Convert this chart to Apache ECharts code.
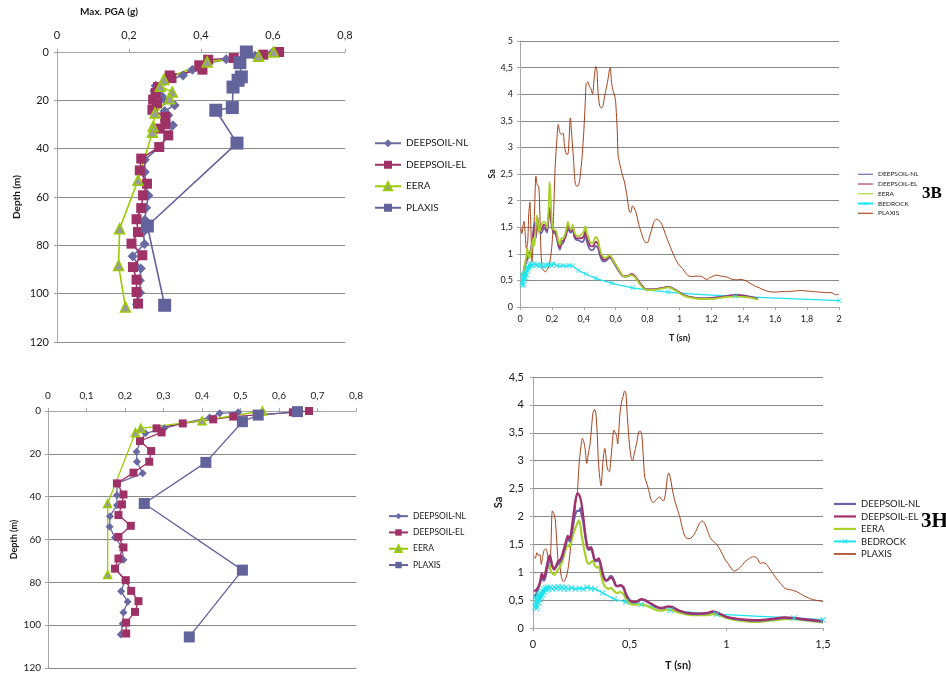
<!DOCTYPE html>
<html><head><meta charset="utf-8">
<script src="https://cdn.jsdelivr.net/npm/echarts@6.0.0/dist/echarts.min.js"></script>
<style>html,body{margin:0;padding:0;background:#fff}#c{width:946px;height:677px}</style>
</head><body><div id="c"></div>
<script>
// ---------- Panel A (top-left): Max PGA profile  [PGA (g), depth (m)] ----------
const pA_NL = [[0.60,0],[0.55,1.5],[0.47,3],[0.41,5],[0.376,7.3],[0.35,9.7],[0.30,12],[0.274,14],[0.271,16],[0.29,18],[0.30,20],[0.327,22],[0.299,24.4],[0.309,26.2],[0.30,28],[0.322,30.3],[0.309,34.5],[0.285,39.3],[0.244,44.6],[0.244,49.7],[0.246,54.6],[0.254,59.4],[0.248,64.4],[0.244,69.4],[0.24,74.5],[0.243,79.4],[0.21,84.5],[0.233,89.6],[0.23,94.5],[0.231,99.6],[0.222,104.4]];
const pA_EL = [[0.617,0],[0.573,1.1],[0.491,2.5],[0.42,3.2],[0.395,5.5],[0.404,7.3],[0.313,9.7],[0.318,10.8],[0.281,14.5],[0.274,17],[0.267,19.7],[0.278,21.2],[0.265,23.9],[0.301,26.9],[0.301,29.9],[0.285,31.7],[0.309,34.5],[0.284,39.3],[0.234,44.1],[0.23,49],[0.25,54.5],[0.239,59.3],[0.234,64.6],[0.221,69.2],[0.225,74.5],[0.207,79.3],[0.237,84.1],[0.211,89],[0.221,94.2],[0.221,99.3],[0.225,104.1]];
const pA_EERA = [[0.602,0],[0.56,1.8],[0.417,4.1],[0.297,11.4],[0.287,14.2],[0.32,16.6],[0.313,19.3],[0.272,25.2],[0.267,30.8],[0.265,33.2],[0.225,53.1],[0.174,73.1],[0.171,88.3],[0.19,105.5]];
const pA_PLAXIS = [[0.526,0],[0.508,4.4],[0.512,10.3],[0.503,11.7],[0.489,14.5],[0.487,23],[0.441,24.1],[0.5,37.7],[0.251,72],[0.299,104.8]];

// ---------- Panel B (bottom-left): Max PGA profile ----------
const pB_NL = [[0.494,0.6],[0.446,1.1],[0.42,3],[0.35,5.8],[0.302,8.1],[0.253,10.4],[0.24,14],[0.23,19],[0.231,23.7],[0.246,29.1],[0.179,33.8],[0.179,39.3],[0.179,44],[0.161,49.1],[0.16,54.1],[0.174,59.1],[0.192,63.4],[0.196,69.5],[0.174,73.6],[0.2,79],[0.19,84.2],[0.207,89.1],[0.196,94.1],[0.194,99.3],[0.189,104.3]];
const pB_EL = [[0.678,0],[0.636,0.6],[0.481,2.6],[0.429,3.9],[0.35,5.8],[0.282,8.1],[0.295,10],[0.239,14],[0.268,18.7],[0.263,23.7],[0.222,28.8],[0.179,33.8],[0.196,39],[0.192,43.6],[0.183,48.6],[0.215,53.6],[0.183,58.8],[0.196,63.7],[0.183,68.9],[0.174,73.6],[0.202,79],[0.216,84],[0.235,88.8],[0.226,93.8],[0.203,98.8],[0.203,103.9]];
const pB_EERA = [[0.557,0],[0.4,4.5],[0.241,8.1],[0.227,10.1],[0.155,43.2],[0.155,76.4]];
const pB_PLAXIS = [[0.648,0.3],[0.546,1.9],[0.505,5],[0.41,24],[0.25,43.2],[0.505,74.3],[0.367,105.5]];

// ---------- Panel 3B (top-right): spectra [T (s), Sa] ----------
const s3B_NL = [[0.01,0.62],[0.02,0.62],[0.03,0.75],[0.04,0.85],[0.05,0.92],[0.06,1.0],[0.07,1.1],[0.08,1.3],[0.09,1.58],[0.095,1.45],[0.1,1.3],[0.11,1.62],[0.12,1.45],[0.13,1.38],[0.14,1.42],[0.15,1.5],[0.16,1.45],[0.17,1.4],[0.18,1.7],[0.185,1.82],[0.19,1.75],[0.2,1.5],[0.21,1.4],[0.22,1.38],[0.23,1.3],[0.24,1.15],[0.25,1.08],[0.26,1.18],[0.27,1.2],[0.28,1.28],[0.29,1.35],[0.3,1.5],[0.31,1.42],[0.32,1.4],[0.33,1.48],[0.34,1.32],[0.35,1.27],[0.37,1.25],[0.39,1.22],[0.4,1.25],[0.41,1.35],[0.42,1.22],[0.43,1.13],[0.44,1.08],[0.45,1.07],[0.46,1.08],[0.475,1.15],[0.49,1.1],[0.5,0.98],[0.51,0.9],[0.52,0.86],[0.535,0.86],[0.55,0.9],[0.56,0.93],[0.575,0.9],[0.59,0.82],[0.61,0.72],[0.63,0.63],[0.65,0.57],[0.67,0.57],[0.69,0.6],[0.7,0.61],[0.72,0.57],[0.74,0.49],[0.76,0.41],[0.78,0.35],[0.8,0.33],[0.84,0.33],[0.88,0.35],[0.91,0.37],[0.93,0.38],[0.95,0.36],[0.98,0.31],[1.0,0.27],[1.03,0.22],[1.06,0.19],[1.1,0.17],[1.15,0.16],[1.2,0.17],[1.25,0.19],[1.3,0.21],[1.35,0.23],[1.4,0.22],[1.45,0.19],[1.49,0.16]];
const s3B_EL = [[0.01,0.62],[0.02,0.63],[0.03,0.78],[0.04,0.9],[0.05,0.98],[0.06,0.95],[0.07,1.05],[0.08,1.28],[0.09,1.5],[0.095,1.4],[0.1,1.35],[0.11,1.68],[0.12,1.42],[0.13,1.45],[0.14,1.5],[0.15,1.55],[0.16,1.52],[0.17,1.45],[0.18,1.75],[0.185,1.86],[0.19,1.8],[0.2,1.55],[0.21,1.42],[0.22,1.42],[0.23,1.35],[0.24,1.2],[0.25,1.12],[0.26,1.24],[0.27,1.24],[0.28,1.3],[0.29,1.4],[0.3,1.55],[0.31,1.46],[0.32,1.43],[0.33,1.52],[0.34,1.37],[0.35,1.3],[0.37,1.29],[0.39,1.3],[0.4,1.33],[0.41,1.43],[0.42,1.3],[0.43,1.22],[0.44,1.15],[0.45,1.14],[0.46,1.15],[0.475,1.23],[0.49,1.18],[0.5,1.04],[0.51,0.95],[0.52,0.9],[0.535,0.89],[0.55,0.93],[0.56,0.96],[0.575,0.92],[0.59,0.84],[0.61,0.74],[0.63,0.64],[0.65,0.58],[0.67,0.58],[0.69,0.61],[0.7,0.62],[0.72,0.58],[0.74,0.5],[0.76,0.42],[0.78,0.35],[0.8,0.33],[0.84,0.33],[0.88,0.35],[0.91,0.37],[0.93,0.38],[0.95,0.36],[0.98,0.31],[1.0,0.27],[1.03,0.22],[1.06,0.19],[1.1,0.17],[1.15,0.16],[1.2,0.16],[1.25,0.18],[1.3,0.2],[1.35,0.22],[1.4,0.21],[1.45,0.18],[1.49,0.15]];
const s3B_EERA = [[0.01,0.62],[0.02,0.64],[0.03,0.8],[0.04,0.95],[0.045,1.1],[0.05,1.05],[0.055,0.95],[0.06,0.92],[0.07,1.05],[0.08,1.25],[0.085,1.3],[0.09,1.15],[0.095,1.3],[0.105,1.72],[0.11,1.65],[0.12,1.4],[0.13,1.5],[0.14,1.58],[0.15,1.6],[0.16,1.58],[0.17,1.48],[0.18,1.9],[0.185,2.35],[0.19,2.2],[0.2,1.6],[0.21,1.45],[0.22,1.45],[0.23,1.4],[0.24,1.25],[0.25,1.17],[0.26,1.3],[0.27,1.28],[0.28,1.35],[0.29,1.45],[0.3,1.6],[0.31,1.5],[0.32,1.45],[0.33,1.55],[0.34,1.42],[0.35,1.35],[0.37,1.33],[0.39,1.38],[0.4,1.42],[0.41,1.52],[0.42,1.38],[0.43,1.3],[0.44,1.22],[0.45,1.2],[0.46,1.22],[0.475,1.32],[0.49,1.25],[0.5,1.1],[0.51,1.0],[0.52,0.95],[0.535,0.92],[0.55,0.95],[0.56,0.98],[0.575,0.93],[0.59,0.85],[0.61,0.75],[0.63,0.65],[0.65,0.58],[0.67,0.57],[0.69,0.6],[0.7,0.6],[0.72,0.56],[0.74,0.48],[0.76,0.4],[0.78,0.34],[0.8,0.32],[0.84,0.32],[0.88,0.34],[0.91,0.36],[0.93,0.37],[0.95,0.35],[0.98,0.3],[1.0,0.26],[1.03,0.21],[1.06,0.18],[1.1,0.16],[1.15,0.15],[1.2,0.15],[1.25,0.17],[1.3,0.19],[1.35,0.2],[1.4,0.19],[1.45,0.17],[1.49,0.14]];
const s3B_BEDROCK = [[0.01,0.45],[0.013,0.6],[0.016,0.4],[0.02,0.55],[0.023,0.42],[0.026,0.62],[0.03,0.5],[0.033,0.66],[0.036,0.55],[0.04,0.7],[0.043,0.6],[0.046,0.75],[0.05,0.68],[0.055,0.8],[0.06,0.72],[0.065,0.82],[0.07,0.76],[0.075,0.8],[0.08,0.78],[0.09,0.82],[0.1,0.78],[0.11,0.8],[0.12,0.76],[0.13,0.8],[0.14,0.78],[0.15,0.75],[0.16,0.78],[0.17,0.8],[0.18,0.78],[0.19,0.8],[0.2,0.78],[0.21,0.82],[0.23,0.78],[0.25,0.77],[0.27,0.78],[0.29,0.77],[0.31,0.78],[0.33,0.77],[0.366,0.69],[0.414,0.62],[0.476,0.54],[0.575,0.45],[0.706,0.36],[0.93,0.28],[1.348,0.2],[2.0,0.12]];
const s3B_PLAXIS = [[0.005,1.48],[0.012,1.38],[0.02,1.55],[0.025,1.61],[0.032,1.4],[0.04,1.1],[0.048,1.2],[0.055,1.75],[0.062,1.97],[0.068,1.5],[0.075,0.85],[0.082,1.2],[0.09,1.7],[0.1,2.46],[0.108,2.3],[0.118,2.25],[0.125,1.7],[0.132,1.0],[0.14,0.72],[0.15,0.68],[0.16,0.66],[0.17,0.7],[0.18,0.75],[0.19,0.9],[0.2,1.15],[0.21,1.7],[0.22,2.6],[0.23,3.1],[0.24,3.43],[0.25,3.28],[0.26,3.24],[0.27,3.27],[0.28,3.0],[0.29,2.88],[0.3,2.87],[0.31,3.3],[0.315,3.55],[0.325,3.2],[0.335,2.8],[0.345,2.35],[0.355,2.27],[0.365,2.28],[0.375,2.4],[0.39,2.85],[0.4,3.3],[0.41,3.9],[0.415,4.2],[0.425,4.23],[0.435,4.15],[0.445,4.1],[0.455,4.0],[0.465,4.3],[0.475,4.52],[0.482,4.45],[0.49,4.0],[0.5,3.78],[0.51,3.74],[0.52,3.78],[0.53,3.95],[0.54,4.1],[0.55,4.25],[0.56,4.45],[0.565,4.5],[0.575,4.2],[0.585,4.05],[0.595,3.95],[0.6,3.85],[0.61,3.3],[0.615,2.85],[0.625,2.7],[0.64,2.5],[0.655,2.35],[0.67,2.1],[0.685,1.8],[0.695,1.78],[0.705,1.9],[0.715,1.87],[0.73,1.75],[0.745,1.55],[0.76,1.4],[0.775,1.27],[0.79,1.21],[0.8,1.21],[0.81,1.3],[0.825,1.45],[0.84,1.6],[0.855,1.65],[0.87,1.63],[0.885,1.58],[0.9,1.47],[0.92,1.3],[0.94,1.15],[0.96,1.0],[0.98,0.87],[1.0,0.78],[1.02,0.72],[1.04,0.63],[1.06,0.58],[1.08,0.57],[1.1,0.58],[1.12,0.58],[1.14,0.57],[1.16,0.53],[1.175,0.52],[1.19,0.55],[1.21,0.58],[1.23,0.6],[1.26,0.58],[1.3,0.56],[1.33,0.52],[1.36,0.51],[1.38,0.52],[1.41,0.5],[1.44,0.45],[1.47,0.4],[1.5,0.36],[1.53,0.32],[1.56,0.29],[1.6,0.28],[1.64,0.29],[1.68,0.29],[1.72,0.3],[1.76,0.31],[1.8,0.3],[1.84,0.29],[1.88,0.28],[1.92,0.27],[1.95,0.27],[1.98,0.23],[2.0,0.24]];

// ---------- Panel 3H (bottom-right): spectra [T (s), Sa] ----------
const s3H_NL = [[0.005,0.56],[0.015,0.6],[0.025,0.7],[0.035,0.8],[0.045,0.9],[0.05,0.88],[0.055,0.85],[0.065,0.92],[0.075,1.1],[0.085,1.25],[0.09,1.22],[0.1,1.1],[0.11,1.05],[0.12,1.1],[0.13,1.15],[0.14,1.18],[0.15,1.25],[0.16,1.38],[0.17,1.5],[0.18,1.6],[0.19,1.55],[0.2,1.7],[0.21,1.9],[0.22,2.05],[0.23,2.1],[0.24,2.1],[0.245,2.15],[0.25,2.05],[0.26,1.9],[0.27,1.65],[0.28,1.45],[0.29,1.4],[0.3,1.42],[0.31,1.32],[0.32,1.2],[0.33,1.2],[0.34,1.22],[0.35,1.12],[0.36,0.98],[0.37,0.88],[0.38,0.85],[0.39,0.88],[0.4,0.93],[0.41,0.92],[0.42,0.84],[0.43,0.76],[0.44,0.75],[0.45,0.76],[0.46,0.75],[0.47,0.7],[0.48,0.6],[0.49,0.53],[0.5,0.49],[0.52,0.46],[0.54,0.47],[0.56,0.51],[0.58,0.49],[0.6,0.45],[0.62,0.41],[0.64,0.37],[0.66,0.35],[0.68,0.36],[0.7,0.38],[0.72,0.37],[0.74,0.33],[0.76,0.3],[0.8,0.26],[0.85,0.25],[0.9,0.26],[0.93,0.29],[0.96,0.26],[1.0,0.2],[1.05,0.16],[1.1,0.14],[1.15,0.13],[1.2,0.14],[1.25,0.16],[1.3,0.18],[1.35,0.17],[1.4,0.15],[1.45,0.13],[1.5,0.11]];
const s3H_EL = [[0.005,0.66],[0.015,0.68],[0.025,0.72],[0.035,0.8],[0.045,0.98],[0.05,0.93],[0.055,0.88],[0.065,1.0],[0.075,1.18],[0.085,1.3],[0.09,1.28],[0.1,1.12],[0.11,1.05],[0.12,1.12],[0.13,1.2],[0.14,1.22],[0.15,1.3],[0.16,1.42],[0.17,1.55],[0.18,1.65],[0.19,1.6],[0.2,1.78],[0.21,2.05],[0.22,2.3],[0.23,2.42],[0.24,2.38],[0.25,2.25],[0.26,2.0],[0.27,1.7],[0.28,1.48],[0.29,1.42],[0.3,1.45],[0.31,1.35],[0.32,1.22],[0.33,1.22],[0.34,1.25],[0.35,1.15],[0.36,0.98],[0.37,0.88],[0.38,0.85],[0.39,0.87],[0.4,0.9],[0.41,0.9],[0.42,0.82],[0.43,0.75],[0.44,0.75],[0.45,0.77],[0.46,0.76],[0.47,0.72],[0.48,0.62],[0.49,0.55],[0.5,0.5],[0.52,0.47],[0.54,0.48],[0.56,0.52],[0.58,0.5],[0.6,0.46],[0.62,0.42],[0.64,0.38],[0.66,0.36],[0.68,0.37],[0.7,0.39],[0.72,0.38],[0.74,0.34],[0.76,0.31],[0.8,0.27],[0.85,0.26],[0.9,0.27],[0.93,0.3],[0.96,0.27],[1.0,0.2],[1.05,0.17],[1.1,0.15],[1.15,0.14],[1.2,0.15],[1.25,0.17],[1.3,0.19],[1.35,0.18],[1.4,0.16],[1.45,0.14],[1.5,0.12]];
const s3H_EERA = [[0.005,0.55],[0.015,0.58],[0.025,0.68],[0.035,0.78],[0.045,0.88],[0.055,0.95],[0.065,1.0],[0.075,1.12],[0.08,1.22],[0.085,1.18],[0.09,1.05],[0.1,0.98],[0.11,0.95],[0.12,1.0],[0.13,1.05],[0.14,1.1],[0.15,1.18],[0.16,1.3],[0.17,1.42],[0.18,1.5],[0.19,1.45],[0.2,1.58],[0.21,1.7],[0.22,1.8],[0.23,1.88],[0.237,1.93],[0.245,1.85],[0.25,1.7],[0.26,1.5],[0.27,1.32],[0.28,1.18],[0.29,1.15],[0.3,1.18],[0.31,1.2],[0.32,1.12],[0.33,1.08],[0.34,1.1],[0.35,0.98],[0.36,0.85],[0.37,0.75],[0.38,0.72],[0.39,0.7],[0.4,0.72],[0.41,0.7],[0.42,0.66],[0.43,0.63],[0.44,0.63],[0.45,0.65],[0.46,0.63],[0.47,0.6],[0.48,0.52],[0.49,0.47],[0.5,0.44],[0.52,0.42],[0.54,0.42],[0.56,0.43],[0.58,0.41],[0.6,0.38],[0.62,0.35],[0.64,0.32],[0.66,0.31],[0.68,0.32],[0.7,0.33],[0.72,0.32],[0.74,0.29],[0.76,0.27],[0.8,0.24],[0.85,0.23],[0.9,0.23],[0.93,0.25],[0.96,0.23],[1.0,0.18],[1.05,0.14],[1.1,0.12],[1.15,0.11],[1.2,0.12],[1.25,0.14],[1.3,0.16],[1.35,0.16],[1.4,0.14],[1.45,0.12],[1.5,0.1]];
const s3H_BEDROCK = [[0.01,0.38],[0.013,0.55],[0.016,0.35],[0.02,0.5],[0.023,0.38],[0.026,0.58],[0.03,0.45],[0.033,0.6],[0.036,0.5],[0.04,0.62],[0.043,0.55],[0.046,0.66],[0.05,0.6],[0.055,0.7],[0.06,0.64],[0.065,0.72],[0.07,0.68],[0.075,0.73],[0.08,0.7],[0.09,0.73],[0.1,0.7],[0.11,0.73],[0.12,0.71],[0.13,0.74],[0.14,0.71],[0.15,0.73],[0.16,0.7],[0.17,0.73],[0.18,0.7],[0.2,0.72],[0.22,0.7],[0.24,0.71],[0.26,0.7],[0.28,0.73],[0.3,0.71],[0.32,0.7],[0.36,0.63],[0.42,0.52],[0.48,0.47],[0.56,0.42],[0.71,0.32],[0.95,0.25],[1.35,0.18],[1.5,0.15]];
const s3H_PLAXIS = [[0.005,1.28],[0.012,1.25],[0.02,1.35],[0.028,1.3],[0.035,1.32],[0.043,1.14],[0.05,1.28],[0.057,1.39],[0.065,1.42],[0.072,1.38],[0.078,1.22],[0.085,1.05],[0.092,1.4],[0.1,2.1],[0.108,2.05],[0.115,1.95],[0.122,1.6],[0.13,1.2],[0.137,1.18],[0.145,0.95],[0.152,0.86],[0.16,0.83],[0.168,0.88],[0.175,0.95],[0.183,1.1],[0.19,1.3],[0.2,1.6],[0.208,1.8],[0.215,2.0],[0.222,2.25],[0.23,2.45],[0.235,2.75],[0.24,3.0],[0.248,3.25],[0.255,3.4],[0.262,3.35],[0.27,3.2],[0.278,2.95],[0.285,3.1],[0.295,3.3],[0.303,3.6],[0.31,3.85],[0.318,3.92],[0.325,3.85],[0.332,3.5],[0.338,3.0],[0.345,2.7],[0.352,2.55],[0.358,2.8],[0.365,3.1],[0.372,3.22],[0.378,3.05],[0.385,2.85],[0.395,2.8],[0.402,3.0],[0.41,3.3],[0.418,3.55],[0.425,3.5],[0.432,3.45],[0.438,3.3],[0.443,3.5],[0.45,3.85],[0.458,4.05],[0.466,4.15],[0.474,4.25],[0.48,4.22],[0.487,3.85],[0.494,3.5],[0.5,3.25],[0.508,3.05],[0.515,3.0],[0.522,3.1],[0.53,3.22],[0.538,3.35],[0.547,3.52],[0.555,3.53],[0.563,3.45],[0.57,3.1],[0.578,2.7],[0.588,2.6],[0.6,2.45],[0.61,2.3],[0.62,2.25],[0.632,2.28],[0.645,2.33],[0.655,2.35],[0.665,2.3],[0.675,2.28],[0.685,2.4],[0.695,2.7],[0.702,2.78],[0.71,2.7],[0.72,2.5],[0.732,2.3],[0.745,2.15],[0.76,1.98],[0.772,1.8],[0.785,1.65],[0.8,1.6],[0.815,1.61],[0.83,1.66],[0.845,1.75],[0.86,1.87],[0.875,1.92],[0.89,1.86],[0.905,1.72],[0.92,1.6],[0.935,1.55],[0.95,1.5],[0.965,1.42],[0.98,1.32],[0.995,1.22],[1.01,1.15],[1.025,1.07],[1.04,1.02],[1.055,1.04],[1.07,1.08],[1.085,1.14],[1.1,1.2],[1.12,1.25],[1.14,1.28],[1.16,1.25],[1.175,1.16],[1.19,1.17],[1.205,1.15],[1.22,1.08],[1.24,0.98],[1.26,0.88],[1.28,0.8],[1.3,0.72],[1.32,0.69],[1.34,0.68],[1.37,0.64],[1.4,0.58],[1.43,0.53],[1.46,0.5],[1.49,0.48],[1.5,0.47]];

const profileNames = ['DEEPSOIL-NL', 'DEEPSOIL-EL', 'EERA', 'PLAXIS'];
const spectraNames = ['DEEPSOIL-NL', 'DEEPSOIL-EL', 'EERA', 'BEDROCK', 'PLAXIS'];

// ---------- rendering ----------
const F = 'Lato, "Open Sans", sans-serif';
const fmt = v => String(+(+v).toFixed(2)).replace('.', ',');
const GRID_C = '#8a8a8a', AX_C = '#a6a6a6', TXT = '#1a1a1a';

const grids = [
  { left: 57, top: 52, width: 288, height: 290 },
  { left: 48, top: 411, width: 308, height: 257 },
  { left: 520, top: 41, width: 319, height: 266 },
  { left: 533, top: 377, width: 290, height: 251 }
];

function profX(gi, interval, fs, margin) {
  return { gridIndex: gi, type: 'value', position: 'top', min: 0, max: 0.8, interval,
    axisLine: { show: true, lineStyle: { color: AX_C } },
    axisTick: { show: true, length: 3, lineStyle: { color: AX_C } },
    axisLabel: { formatter: fmt, fontFamily: F, fontSize: fs, color: TXT, margin },
    splitLine: { show: false } };
}
function profY(gi, fs, margin, nameSize, nameGap) {
  return { gridIndex: gi, type: 'value', inverse: true, min: 0, max: 120, interval: 20,
    name: 'Depth (m)', nameLocation: 'middle', nameGap, nameRotate: 90,
    nameTextStyle: { fontFamily: F, fontSize: nameSize, fontWeight: 'bold', color: TXT },
    axisLine: { show: true, lineStyle: { color: AX_C } },
    axisTick: { show: true, length: 3, lineStyle: { color: AX_C } },
    axisLabel: { fontFamily: F, fontSize: fs, color: TXT, margin },
    splitLine: { show: true, lineStyle: { color: GRID_C, width: 1 } } };
}
function specX(gi, max, interval, fs, margin, nameSize, nameGap) {
  return { gridIndex: gi, type: 'value', min: 0, max, interval,
    name: 'T (sn)', nameLocation: 'middle', nameGap,
    nameTextStyle: { fontFamily: F, fontSize: nameSize, fontWeight: 'bold', color: TXT },
    axisLine: { show: true, onZero: false, lineStyle: { color: AX_C } },
    axisTick: { show: true, length: 3, lineStyle: { color: AX_C } },
    axisLabel: { formatter: fmt, fontFamily: F, fontSize: fs, color: TXT, margin },
    splitLine: { show: false } };
}
function specY(gi, max, fs, margin, nameSize, nameGap) {
  return { gridIndex: gi, type: 'value', min: 0, max, interval: 0.5,
    name: 'Sa', nameLocation: 'middle', nameGap, nameRotate: 90,
    nameTextStyle: { fontFamily: F, fontSize: nameSize, fontWeight: 'bold', color: TXT },
    axisLine: { show: true, lineStyle: { color: AX_C } },
    axisTick: { show: true, length: 3, lineStyle: { color: AX_C } },
    axisLabel: { formatter: fmt, fontFamily: F, fontSize: fs, color: TXT, margin },
    splitLine: { show: true, lineStyle: { color: GRID_C, width: 1 } } };
}

const PROF_STYLE = {
  'DEEPSOIL-NL': { symbol: 'diamond', color: '#6a6aa3', size: [10, 8] },
  'DEEPSOIL-EL': { symbol: 'rect', color: '#9e3165', size: [10, 8] },
  'EERA': { symbol: 'triangle', color: '#9b9b9b', line: '#9acd00', border: '#9acd00', size: [10, 8] },
  'PLAXIS': { symbol: 'rect', color: '#63639c', size: [13, 11] }
};
function profSeries(name, data, gi, k) {
  const st = PROF_STYLE[name];
  return { name, type: 'line', xAxisIndex: gi, yAxisIndex: gi, data,
    symbol: st.symbol, symbolSize: st.size[k], showAllSymbol: true,
    lineStyle: { color: st.line || st.color, width: k === 0 ? 1.6 : 1.3 },
    itemStyle: { color: st.color, borderColor: st.border || st.color, borderWidth: st.border ? 1.5 : 0 },
    emphasis: { disabled: true } };
}
const SPEC_COLOR = { 'DEEPSOIL-NL': '#6d62aa', 'DEEPSOIL-EL': '#a3306e', 'EERA': '#a9d12c', 'BEDROCK': '#1ce4f0', 'PLAXIS': '#a8401a' };
const XMARK = 'path://M0,1L1,0L5,4L9,0L10,1L6,5L10,9L9,10L5,6L1,10L0,9L4,5Z';
function specSeries(name, tag, data, gi, wide) {
  const c = SPEC_COLOR[name];
  const isBed = name === 'BEDROCK', isPl = name === 'PLAXIS';
  return { name: name + ' (' + tag + ')', type: 'line', xAxisIndex: gi, yAxisIndex: gi, data,
    smooth: 0.25,
    symbol: isBed ? XMARK : 'none', symbolSize: wide ? 6 : 5, showAllSymbol: true,
    lineStyle: { color: c, width: isPl ? 1 : (isBed ? 1.3 : (wide ? 2.2 : 1.8)) },
    itemStyle: { color: c },
    emphasis: { disabled: true } };
}

const series = [
  profSeries('DEEPSOIL-NL', pA_NL, 0, 0),
  profSeries('DEEPSOIL-EL', pA_EL, 0, 0),
  profSeries('EERA', pA_EERA, 0, 0),
  profSeries('PLAXIS', pA_PLAXIS, 0, 0),
  profSeries('DEEPSOIL-NL', pB_NL, 1, 1),
  profSeries('DEEPSOIL-EL', pB_EL, 1, 1),
  profSeries('EERA', pB_EERA, 1, 1),
  profSeries('PLAXIS', pB_PLAXIS, 1, 1),
  specSeries('PLAXIS', '3B', s3B_PLAXIS, 2, false),
  specSeries('BEDROCK', '3B', s3B_BEDROCK, 2, false),
  specSeries('DEEPSOIL-NL', '3B', s3B_NL, 2, false),
  specSeries('DEEPSOIL-EL', '3B', s3B_EL, 2, false),
  specSeries('EERA', '3B', s3B_EERA, 2, false),
  specSeries('PLAXIS', '3H', s3H_PLAXIS, 3, true),
  specSeries('BEDROCK', '3H', s3H_BEDROCK, 3, true),
  specSeries('EERA', '3H', s3H_EERA, 3, true),
  specSeries('DEEPSOIL-NL', '3H', s3H_NL, 3, true),
  specSeries('DEEPSOIL-EL', '3H', s3H_EL, 3, true)
];

const stripTag = n => n.replace(/ \(3[BH]\)$/, '');
const LINE_ICON = 'path://M0,0H40V3H0Z';
function legend(items, left, top, pitch, iw, ih, fs) {
  return { orient: 'vertical', left, top, itemGap: 0, itemWidth: iw, itemHeight: ih,
    padding: 0, selectedMode: false, symbolKeepAspect: true, data: items, formatter: stripTag,
    textStyle: { fontFamily: F, fontSize: fs, color: TXT, lineHeight: pitch } };
}
const specLegendItems = (tag, thick) => spectraNames.map(n => n === 'BEDROCK'
  ? { name: n + ' (' + tag + ')' }
  : { name: n + ' (' + tag + ')', icon: thick && n !== 'PLAXIS' ? 'path://M0,0H40V4H0Z' : LINE_ICON });

const option = {
  animation: false,
  backgroundColor: '#fff',
  grid: grids,
  xAxis: [ profX(0, 0.2, 11, 11), profX(1, 0.1, 10, 10), specX(2, 2, 0.2, 9, 8, 9, 27), specX(3, 1.5, 0.5, 11, 11, 11, 32) ],
  yAxis: [ profY(0, 11, 8, 10, 35), profY(1, 10, 7, 9, 29), specY(2, 5, 9, 7, 9, 18), specY(3, 4.5, 11, 9, 11, 29) ],
  legend: [
    legend(profileNames, 374, 132.5, 21.5, 26, 10, 10),
    legend(profileNames, 388, 508, 16.3, 19, 8, 8.5),
    legend(specLegendItems('3B', false), 857, 169.4, 9.75, 15, 5, 6.5),
    legend(specLegendItems('3H', true), 833, 497.7, 12.5, 22, 6, 9.5)
  ],
  graphic: [
    { type: 'text', left: 80, top: 7, style: { text: 'Max. PGA (g)', font: 'bold 10px ' + F, fill: TXT } },
    { type: 'text', left: 922, top: 185, style: { text: '3B', font: 'bold 17px "Liberation Serif", serif', fill: '#000' } },
    { type: 'text', left: 921, top: 511, style: { text: '3H', font: 'bold 21px "Liberation Serif", serif', fill: '#000' } }
  ],
  series
};
const chart = echarts.init(document.getElementById('c'));
chart.setOption(option);
</script></body></html>
